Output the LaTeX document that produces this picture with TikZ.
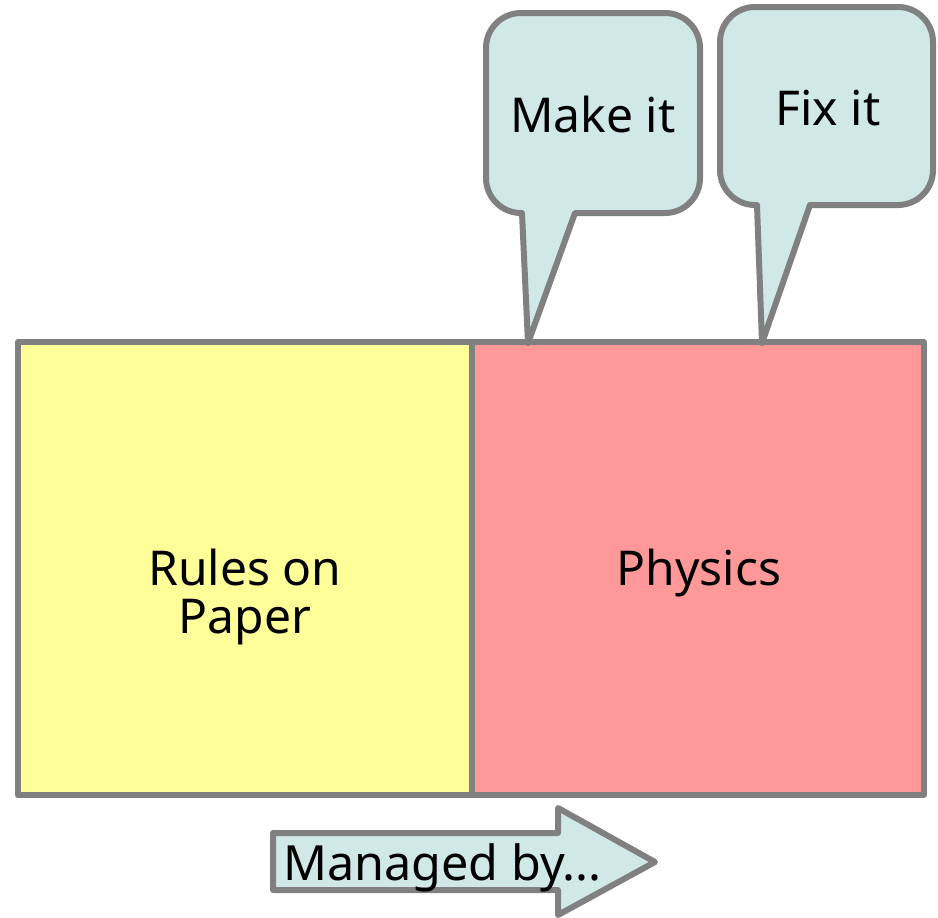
\documentclass[tikz,border=0pt]{standalone}
\usepackage{fontspec}
\setmainfont{Noto Sans}
\usepackage{tikz}
\usetikzlibrary{positioning}

\definecolor{paperyellow}{HTML}{FFFF99}
\definecolor{physicsred}{HTML}{FF9999}
\definecolor{bubbleteal}{HTML}{D0E8E6}
\definecolor{edgegray}{HTML}{808080}

\begin{document}
\begin{tikzpicture}[
        x=1pt, y=-1pt,
        line join=round,
        % Set the overall look of the parts
        panel/.style={draw=edgegray, line width=6pt, minimum width=454pt,
            minimum height=453pt, inner sep=0pt, outer sep=0pt},
        bubble/.style={draw=edgegray, line width=6pt, fill=bubbleteal},
        caption/.style={font=\fontsize{48}{48}\selectfont, inner sep=0pt,
            align=center}
    ]
    \useasboundingbox (0,0) rectangle (938,918);

    % the two panels side by side
    \node[panel, fill=paperyellow] (rules) at (245,568.5) {};
    \node[panel, fill=physicsred, right=0pt of rules, minimum width=452pt]
        (physics) {};
    \node[caption] (rulestext) at (245,597) {Rules on\\Paper};
    \node[caption, anchor=base] (physicstext) at (699,585) {Physics};

    % speech bubbles pointing down at the physics panel
    \coordinate (maketip) at (528,343);
    \coordinate (fixtip) at (762,343);
    \draw[bubble] (522,213) [rounded corners=35pt] -- (486,213) -- (486,13)
        -- (700,13) -- (700,213) [sharp corners] -- (575,213) -- (maketip)
        -- cycle;
    \draw[bubble] (757,205) [rounded corners=35pt] -- (720,205) -- (720,7)
        -- (933,7) -- (933,205) [sharp corners] -- (810,205) -- (fixtip)
        -- cycle;
    \node[caption, anchor=base] (make) at (593,132) {Make it};
    \node[caption, anchor=base] (fix) at (828,125) {Fix it};

    % the arrow underneath
    \draw[bubble] (273,833) -- (558,833) -- (558,808) -- (655,862)
        -- (558,915) -- (558,890) -- (273,890) -- cycle;
    \node[caption, anchor=base west, font=\fontsize{48.5}{50}\selectfont]
        (managed) at (283,880) {Managed by...};
\end{tikzpicture}
\end{document}
